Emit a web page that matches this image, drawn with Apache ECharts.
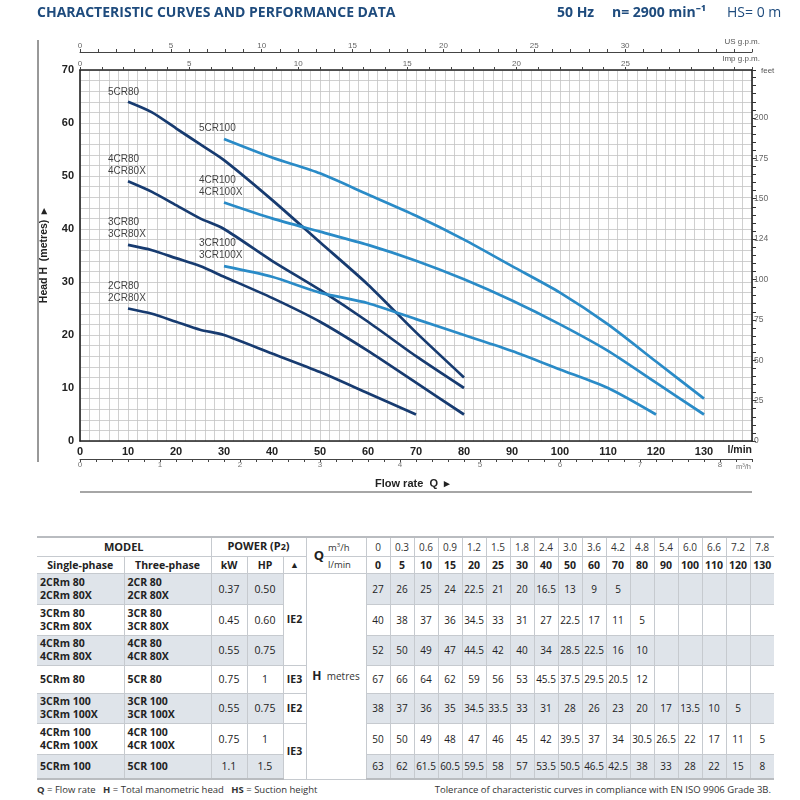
<!DOCTYPE html>
<html><head><meta charset="utf-8">
<script src="https://cdn.jsdelivr.net/npm/echarts@6/dist/echarts.min.js"></script>
<style>
body{margin:0;background:#fff;}
#chart{position:absolute;left:0;top:0;width:800px;height:520px;}
#tbl{position:absolute;left:37px;top:536px;border-collapse:collapse;table-layout:fixed;font-family:'Open Sans',sans-serif;color:#222;width:737px;}
#tbl td{border:1px solid #c6cacf;padding:0;text-align:center;font-size:10px;overflow:hidden;white-space:nowrap;line-height:12px;}
#tbl tr.h1 td{border-top:2px solid #b9bcc0;}
#tbl tr:last-child td{border-bottom:2px solid #b9bcc0;}
#tbl td.model{text-align:left;padding-left:3px;font-weight:bold;font-size:10.5px;line-height:13px;}
#tbl td.b{font-weight:bold;font-size:10.5px;}
#tbl td.sh{background:#dfe4ea;}
#tbl td.first{border-left:none;}
#tbl td.last{border-right:none;}
#tbl td.q{border-right:none;font-weight:bold;font-size:13px;text-align:right;}
#tbl td.unit{border-left:none;text-align:left;padding-left:4px;font-size:9.5px;color:#333;}
.foot{position:absolute;top:783px;font-family:'Open Sans',sans-serif;font-size:9.5px;color:#333;white-space:nowrap;}
</style></head>
<body>
<div id="chart"></div>
<table id="tbl"></table>
<div class="foot" style="left:37px;"><b>Q</b> = Flow rate &nbsp; <b>H</b> = Total manometric head &nbsp; <b>HS</b> = Suction height</div>
<div class="foot" style="right:29px;">Tolerance of characteristic curves in compliance with EN ISO 9906 Grade 3B.</div>
<script>
// ---------- data ----------
const flowLmin = [0,5,10,15,20,25,30,40,50,60,70,80,90,100,110,120,130];
const flowM3h  = ['0','0.3','0.6','0.9','1.2','1.5','1.8','2.4','3.0','3.6','4.2','4.8','5.4','6.0','6.6','7.2','7.8'];
const h2CR80  = [27,26,25,24,22.5,21,20,16.5,13,9,5];
const h3CR80  = [40,38,37,36,34.5,33,31,27,22.5,17,11,5];
const h4CR80  = [52,50,49,47,44.5,42,40,34,28.5,22.5,16,10];
const h5CR80  = [67,66,64,62,59,56,53,45.5,37.5,29.5,20.5,12];
const h3CR100 = [38,37,36,35,34.5,33.5,33,31,28,26,23,20,17,13.5,10,5];
const h4CR100 = [50,50,49,48,47,46,45,42,39.5,37,34,30.5,26.5,22,17,11,5];
const h5CR100 = [63,62,61.5,60.5,59.5,58,57,53.5,50.5,46.5,42.5,38,33,28,22,15,8];
const singlePhase = [['2CRm 80','2CRm 80X'],['3CRm 80','3CRm 80X'],['4CRm 80','4CRm 80X'],['5CRm 80'],['3CRm 100','3CRm 100X'],['4CRm 100','4CRm 100X'],['5CRm 100']];
const threePhase  = [['2CR 80','2CR 80X'],['3CR 80','3CR 80X'],['4CR 80','4CR 80X'],['5CR 80'],['3CR 100','3CR 100X'],['4CR 100','4CR 100X'],['5CR 100']];
const powerKW = ['0.37','0.45','0.55','0.75','0.55','0.75','1.1'];
const powerHP = ['0.50','0.60','0.75','1','0.75','1','1.5'];
const ieClass = [['IE2',3],['IE3',1],['IE2',1],['IE3',2]];
const tableRows = [h2CR80,h3CR80,h4CR80,h5CR80,h3CR100,h4CR100,h5CR100];
const feetLabels = [0,25,50,75,100,124,150,175,200];
const usGpmLabels = [0,5,10,15,20,25,30];
const impGpmLabels = [0,5,10,15,20,25];
const m3hLabels = [0,1,2,3,4,5,6,7,8];
const curveNames80  = ['5CR80','4CR80\n4CR80X','3CR80\n3CR80X','2CR80\n2CR80X'];
const curveNames100 = ['5CR100','4CR100\n4CR100X','3CR100\n3CR100X'];

// ---------- table ----------
(function(){
  const t = document.getElementById('tbl');
  let html = '<colgroup><col style="width:87px"><col style="width:87px"><col style="width:36px"><col style="width:36px"><col style="width:23px"><col style="width:18px"><col style="width:42px">';
  for (let i=0;i<flowLmin.length;i++) html += '<col style="width:24px">';
  html += '</colgroup>';
  html += '<tr class="h1" style="height:19px"><td class="b first" colspan="2" style="font-size:11px">MODEL</td><td class="b" colspan="3" style="font-size:11px">POWER (P<span style="font-size:9px">2</span>)</td><td class="q" rowspan="2">Q</td><td class="unit">m<sup style="font-size:6px">3</sup>/h</td>';
  flowM3h.forEach((v,i)=>{ html += '<td style="color:#333"'+(i===flowM3h.length-1?' class="last"':'')+'>'+v+'</td>'; });
  html += '</tr><tr style="height:17px"><td class="b first">Single-phase</td><td class="b">Three-phase</td><td class="b">kW</td><td class="b">HP</td><td style="font-size:9px">▲</td><td class="unit">l/min</td>';
  flowLmin.forEach((v,i)=>{ html += '<td class="b'+(i===flowLmin.length-1?' last':'')+'">'+v+'</td>'; });
  html += '</tr>';
  const heights = [31,31,30,28,30,31,25];
  let ieIdx = 0, ieRow = 0;
  tableRows.forEach((row,r)=>{
    const sh = (r%2===0) ? ' sh' : '';
    html += '<tr style="height:'+heights[r]+'px">';
    html += '<td class="model first'+sh+'">'+singlePhase[r].join('<br>')+'</td>';
    html += '<td class="model'+sh+'">'+threePhase[r].join('<br>')+'</td>';
    html += '<td class="'+sh+'" style="font-size:10.5px">'+powerKW[r]+'</td>';
    html += '<td class="'+sh+'" style="font-size:10.5px">'+powerHP[r]+'</td>';
    if (r === ieRow) {
      const [txt,span] = ieClass[ieIdx];
      html += '<td class="b" rowspan="'+span+'">'+txt+'</td>';
      ieRow += span; ieIdx++;
    }
    if (r === 0) html += '<td colspan="2" rowspan="'+tableRows.length+'" style="font-size:10px;color:#333"><b style="font-size:12px;color:#222">H</b>&nbsp; metres</td>';
    for (let i=0;i<flowLmin.length;i++){
      const v = row[i];
      html += '<td class="'+sh+(i===flowLmin.length-1?' last':'')+'">'+(v===undefined?'':v)+'</td>';
    }
    html += '</tr>';
  });
  t.innerHTML = html;
})();

// ---------- chart ----------
const DARK = '#173b70', LIGHT = '#2a8bc7';
const LPM_PER_M3H = 1000/60, LPM_PER_USG = 3.785411784, LPM_PER_IMPG = 4.54609, FT_PER_M = 3.28084;
const X_MAX = 140, Y_MAX = 70;
const AX = 'Liberation Sans';
function pairs(h, startQ){ return flowLmin.map((q,i)=>[q,h[i]]).filter(p=>p[1]!==undefined && p[0]>=startQ); }
const curves = [
  {h:h5CR80, start:10, color:DARK, name:curveNames80[0], off:[-20,1]},
  {h:h4CR80, start:10, color:DARK, name:curveNames80[1], off:[-20,0]},
  {h:h3CR80, start:10, color:DARK, name:curveNames80[2], off:[-20,0]},
  {h:h2CR80, start:10, color:DARK, name:curveNames80[3], off:[-20,0]},
  {h:h5CR100, start:30, color:LIGHT, name:curveNames100[0], off:[-25,0]},
  {h:h4CR100, start:30, color:LIGHT, name:curveNames100[1], off:[-25,0]},
  {h:h3CR100, start:30, color:LIGHT, name:curveNames100[2], off:[-25,0]}
];
const series = [];
curves.forEach(c=>{
  const d = pairs(c.h, c.start);
  series.push({type:'line', data:d, smooth:0.25, showSymbol:false, silent:true,
    lineStyle:{color:c.color, width:2.7}, itemStyle:{color:c.color}, z:3});
  series.push({type:'scatter', data:[d[0]], symbolSize:1, itemStyle:{color:'rgba(0,0,0,0)'}, silent:true, z:4,
    label:{show:true, position:'top', align:'left', verticalAlign:'bottom', distance:4, offset:c.off,
      formatter:c.name, fontSize:10, lineHeight:12, color:'#111', fontFamily:AX}});
});
const isInt = v => Math.abs(v-Math.round(v))<1e-6;
const pick = (arr)=> v => (isInt(v) && arr.indexOf(Math.round(v))>=0) ? String(Math.round(v)) : '';
const chart = echarts.init(document.getElementById('chart'), null, {renderer:'canvas'});
chart.setOption({
  animation:false,
  grid:{left:80, top:70, width:672, height:371, containLabel:false},
  xAxis:[
    {type:'value', min:0, max:X_MAX, interval:2, position:'bottom',
      axisLine:{show:true, onZero:false, lineStyle:{color:'#222', width:1.6}},
      axisTick:{show:false},
      axisLabel:{formatter:pick(flowLmin.filter(v=>v%10===0)), fontWeight:'bold', fontSize:11, color:'#222', margin:5, fontFamily:AX},
      splitLine:{show:true, lineStyle:{color:'#c4c4c4', width:0.8}}},
    {type:'value', min:0, max:X_MAX/LPM_PER_M3H, interval:0.2, position:'bottom', offset:18,
      axisLine:{show:true, onZero:false, lineStyle:{color:'#444', width:1}},
      axisTick:{show:true, length:3, lineStyle:{color:'#444'}},
      axisLabel:{formatter:pick(m3hLabels), fontSize:8, color:'#777', margin:2, fontFamily:AX},
      splitLine:{show:false}},
    {type:'value', min:0, max:X_MAX/LPM_PER_USG, interval:1, position:'top', offset:18,
      axisLine:{show:true, onZero:false, lineStyle:{color:'#444', width:1}},
      axisTick:{show:true, length:3, lineStyle:{color:'#444'}},
      axisLabel:{formatter:pick(usGpmLabels), fontSize:8, color:'#666', margin:2, fontFamily:AX},
      splitLine:{show:false}},
    {type:'value', min:0, max:X_MAX/LPM_PER_IMPG, interval:1, position:'top', offset:0,
      axisLine:{show:true, onZero:false, lineStyle:{color:'#222', width:1.6}},
      axisTick:{show:true, length:3, lineStyle:{color:'#444'}},
      axisLabel:{formatter:pick(impGpmLabels), fontSize:8, color:'#666', margin:2, fontFamily:AX},
      splitLine:{show:false}}
  ],
  yAxis:[
    {type:'value', min:0, max:Y_MAX, interval:2, position:'left',
      axisLine:{show:true, onZero:false, lineStyle:{color:'#222', width:1.6}},
      axisTick:{show:false},
      axisLabel:{formatter:v=>(v%10===0)?String(v):'', fontWeight:'bold', fontSize:11, color:'#222', margin:6, fontFamily:AX},
      splitLine:{show:true, lineStyle:{color:'#c4c4c4', width:0.8}},
      name:'Head H  (metres)  ▸', nameLocation:'middle', nameGap:30, nameRotate:90,
      nameTextStyle:{fontWeight:'bold', fontSize:10.5, color:'#222', fontFamily:AX}},
    {type:'value', min:0, max:Y_MAX*FT_PER_M, interval:5, position:'right',
      axisLine:{show:true, onZero:false, lineStyle:{color:'#222', width:1.6}},
      axisTick:{show:true, length:4, lineStyle:{color:'#333'}},
      axisLabel:{formatter:v=>(isInt(v)&&Math.round(v)%25===0&&feetLabels[Math.round(v)/25]!==undefined)?String(feetLabels[Math.round(v)/25]):'', fontSize:8.5, color:'#666', margin:2, fontFamily:AX},
      splitLine:{show:false}}
  ],
  series:series,
  graphic:[
    {type:'text', left:37, top:6, style:{text:'CHARACTERISTIC CURVES AND PERFORMANCE DATA', font:'bold 14px "Open Sans"', fill:'#1e4b7d'}},
    {type:'text', left:557, top:6, style:{text:'50 Hz', font:'bold 14px "Open Sans"', fill:'#1e4b7d'}},
    {type:'text', left:612, top:6, style:{text:'n= 2900 min⁻¹', font:'bold 14px "Open Sans"', fill:'#1e4b7d'}},
    {type:'text', left:727, top:6, style:{text:'HS= 0 m', font:'14px "Open Sans"', fill:'#1e4b7d'}},
    {type:'text', right:40, top:38, style:{text:'US g.p.m.', font:'8px "Liberation Sans"', fill:'#555'}},
    {type:'text', right:40, top:55, style:{text:'Imp g.p.m.', font:'8px "Liberation Sans"', fill:'#555'}},
    {type:'text', left:761, top:67, style:{text:'feet', font:'8px "Liberation Sans"', fill:'#555'}},
    {type:'text', right:48, top:445, style:{text:'l/min', font:'bold 10.5px "Liberation Sans"', fill:'#222'}},
    {type:'text', left:736, top:463, style:{text:'m³/h', font:'7.5px "Liberation Sans"', fill:'#777'}},
    {type:'text', left:375, top:478, style:{text:'Flow rate  Q  ▸', font:'bold 11px "Liberation Sans"', fill:'#222'}},
    {type:'line', shape:{x1:80, y1:492, x2:752, y2:492}, style:{stroke:'#888', lineWidth:1.5}},
    {type:'line', shape:{x1:38, y1:40, x2:38, y2:462}, style:{stroke:'#333', lineWidth:1}}
  ]
});
</script>
</body></html>
